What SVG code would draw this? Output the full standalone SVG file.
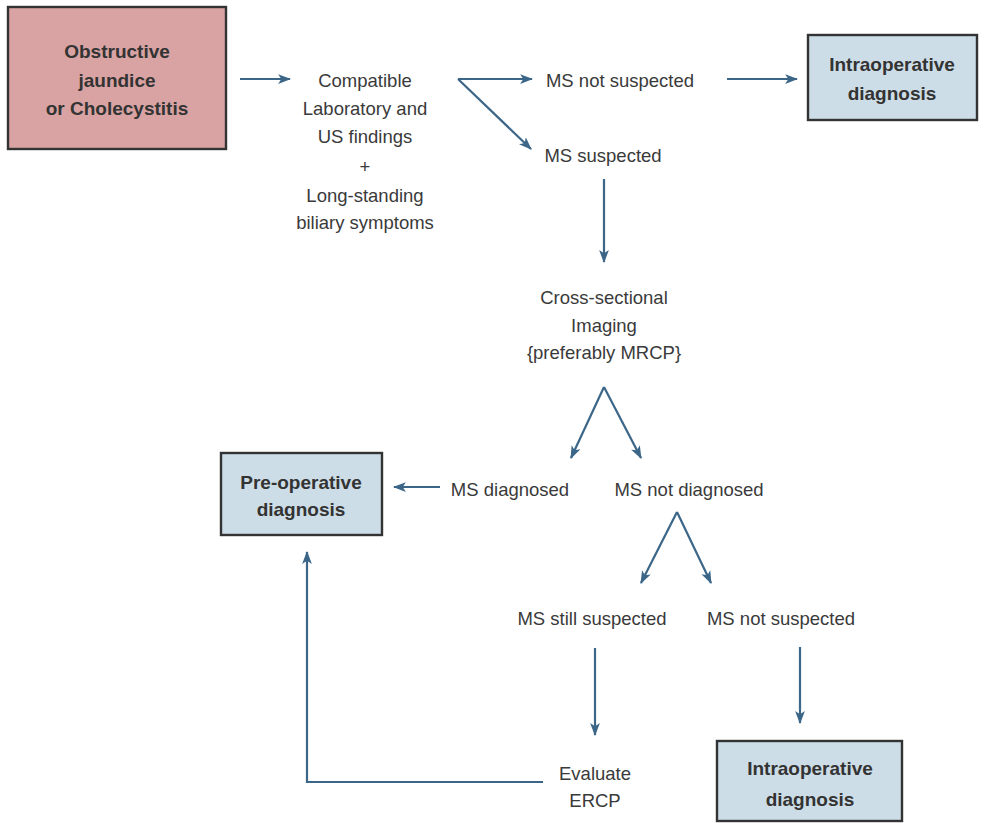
<svg xmlns="http://www.w3.org/2000/svg" width="984" height="823" viewBox="0 0 984 823">
<style>
.t{font-family:"Liberation Sans",Arial,sans-serif;font-size:18.5px;fill:#3a3a3a;text-anchor:middle}
.b{font-family:"Liberation Sans",Arial,sans-serif;font-size:19px;font-weight:bold;fill:#333;text-anchor:middle}
.c{stroke:#3c6688;stroke-width:2.2;fill:none}
.box{stroke:#333;stroke-width:2.4}
</style>
<defs>
<marker id="ah" viewBox="0 0 12 10" refX="11" refY="5" markerWidth="13" markerHeight="11" markerUnits="userSpaceOnUse" orient="auto">
<path d="M0,0.5 L12,5 L0,9.5 L3,5 Z" fill="#3c6688"/>
</marker>
</defs>
<rect width="984" height="823" fill="#fff"/>
<g id="connectors">
<line class="c" x1="240" y1="79" x2="290" y2="79" marker-end="url(#ah)"/>
<line class="c" x1="458" y1="79" x2="532" y2="79" marker-end="url(#ah)"/>
<line class="c" x1="458" y1="79" x2="531" y2="149" marker-end="url(#ah)"/>
<line class="c" x1="727" y1="79" x2="797" y2="79" marker-end="url(#ah)"/>
<line class="c" x1="604" y1="179" x2="604" y2="262" marker-end="url(#ah)"/>
<line class="c" x1="604" y1="387" x2="571" y2="458" marker-end="url(#ah)"/>
<line class="c" x1="604" y1="387" x2="641" y2="458" marker-end="url(#ah)"/>
<line class="c" x1="440" y1="487" x2="394" y2="487" marker-end="url(#ah)"/>
<line class="c" x1="677" y1="512" x2="641" y2="583" marker-end="url(#ah)"/>
<line class="c" x1="677" y1="512" x2="711" y2="583" marker-end="url(#ah)"/>
<line class="c" x1="595" y1="648" x2="595" y2="735" marker-end="url(#ah)"/>
<line class="c" x1="800" y1="647" x2="800" y2="723" marker-end="url(#ah)"/>
<polyline class="c" points="543,782 307,782 307,552" marker-end="url(#ah)"/>
</g>
<g id="obstructive">
<rect class="box" x="8" y="7" width="218" height="142" fill="#d9a3a3"/>
<text class="b" x="117" y="58">Obstructive</text>
<text class="b" x="117" y="87">jaundice</text>
<text class="b" x="117" y="115">or Cholecystitis</text>
</g>
<g id="compatible">
<text class="t" x="365" y="87">Compatible</text>
<text class="t" x="365" y="115">Laboratory and</text>
<text class="t" x="365" y="143">US findings</text>
<text class="t" x="365" y="173">+</text>
<text class="t" x="365" y="202">Long-standing</text>
<text class="t" x="365" y="229">biliary symptoms</text>
</g>
<g id="ms-not-suspected-1"><text class="t" x="620" y="87">MS not suspected</text></g>
<g id="ms-suspected"><text class="t" x="603" y="162">MS suspected</text></g>
<g id="intraop-1">
<rect class="box" x="808" y="35" width="169" height="85" fill="#cddde7"/>
<text class="b" x="892" y="71">Intraoperative</text>
<text class="b" x="892" y="100">diagnosis</text>
</g>
<g id="imaging">
<text class="t" x="604" y="304">Cross-sectional</text>
<text class="t" x="604" y="332">Imaging</text>
<text class="t" x="604" y="359">{preferably MRCP}</text>
</g>
<g id="ms-diagnosed"><text class="t" x="510" y="496">MS diagnosed</text></g>
<g id="ms-not-diagnosed"><text class="t" x="689" y="496">MS not diagnosed</text></g>
<g id="preop">
<rect class="box" x="221" y="453" width="161" height="82" fill="#cddde7"/>
<text class="b" x="301" y="489">Pre-operative</text>
<text class="b" x="301" y="516">diagnosis</text>
</g>
<g id="ms-still-suspected"><text class="t" x="592" y="625">MS still suspected</text></g>
<g id="ms-not-suspected-2"><text class="t" x="781" y="625">MS not suspected</text></g>
<g id="ercp">
<text class="t" x="595" y="780">Evaluate</text>
<text class="t" x="595" y="807">ERCP</text>
</g>
<g id="intraop-2">
<rect class="box" x="717" y="741" width="185" height="80" fill="#cddde7"/>
<text class="b" x="810" y="775">Intraoperative</text>
<text class="b" x="810" y="806">diagnosis</text>
</g>
</svg>
